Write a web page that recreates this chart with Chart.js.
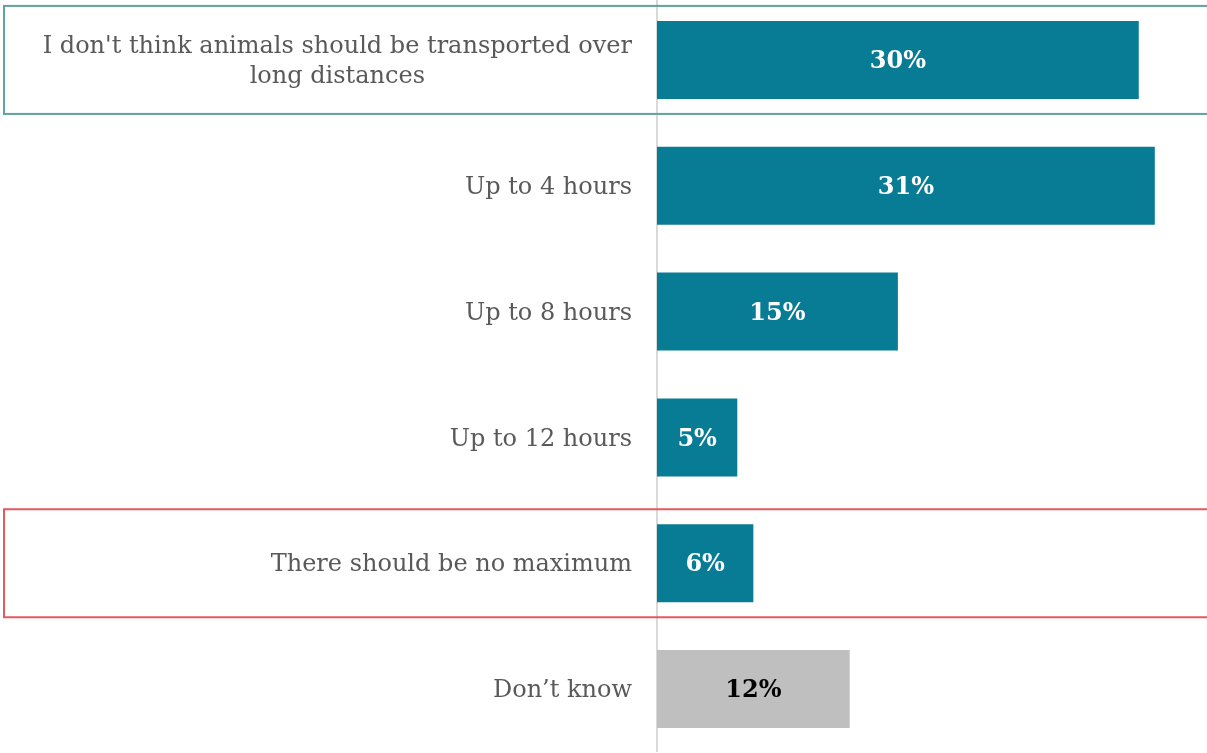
<!DOCTYPE html>
<html><head><meta charset="utf-8">
<style>
html,body{margin:0;padding:0;background:#fff;overflow:hidden;width:1207px;height:753px;}
#wrap{position:absolute;left:0;top:-3px;width:1207px;height:755px;}
</style>
<script src="https://cdn.jsdelivr.net/npm/chart.js@4.4.1/dist/chart.umd.min.js"></script>
</head><body>
<div id="wrap"><canvas id="c"></canvas></div>
<script>
const categories = [
  ["I don't think animals should be transported over", "long distances"],
  ["Up to 4 hours"],
  ["Up to 8 hours"],
  ["Up to 12 hours"],
  ["There should be no maximum"],
  ["Don\u2019t know"]
];
const values = [30, 31, 15, 5, 6, 12];
const barColors = ["#087B95", "#087B95", "#087B95", "#087B95", "#087B95", "#BFBFBF"];
const valueLabelColors = ["#ffffff", "#ffffff", "#ffffff", "#ffffff", "#ffffff", "#000000"];
const highlighted = [{index: 0, color: "#5FA39B"}, {index: 4, color: "#E4585E"}];

const SERIF = "'DejaVu Serif', 'Liberation Serif', serif";

const labelPlugin = {
  id: 'labels',
  afterDraw(chart) {
    const ctx = chart.ctx;
    const y = chart.scales.y;
    highlighted.forEach(h => {
      const cy = y.getPixelForValue(h.index);
      ctx.save();
      ctx.strokeStyle = h.color;
      ctx.lineWidth = 2;
      ctx.strokeRect(4, cy - 54, chart.width + 10, 108);
      ctx.restore();
    });
    ctx.save();
    ctx.font = "24px " + SERIF;
    ctx.fillStyle = "#595959";
    ctx.textBaseline = "middle";
    ctx.textAlign = "center";
    const right = 632;
    categories.forEach((lines, i) => {
      const cy = y.getPixelForValue(i) + 2;
      const w = Math.max(...lines.map(l => ctx.measureText(l).width));
      const cx = right - w / 2;
      const lh = 30;
      lines.forEach((l, k) => {
        ctx.fillText(l, cx, cy + (k - (lines.length - 1) / 2) * lh);
      });
    });
    ctx.restore();
  },
  afterDatasetsDraw(chart) {
    const ctx = chart.ctx;
    const meta = chart.getDatasetMeta(0);
    ctx.save();
    ctx.font = "bold 24px " + SERIF;
    ctx.textAlign = "center";
    ctx.textBaseline = "middle";
    meta.data.forEach((bar, i) => {
      ctx.fillStyle = valueLabelColors[i];
      ctx.fillText(values[i] + "%", (bar.x + bar.base) / 2, bar.y + 2);
    });
    ctx.restore();
  }
};

new Chart(document.getElementById('c'), {
  type: 'bar',
  data: {
    labels: categories,
    datasets: [{
      data: values,
      backgroundColor: barColors,
      borderWidth: 0,
      categoryPercentage: 1,
      barPercentage: 0.62
    }]
  },
  options: {
    indexAxis: 'y',
    responsive: true,
    maintainAspectRatio: false,
    animation: false,
    layout: {padding: {left: 657, right: 0, top: 0, bottom: 0}},
    plugins: {legend: {display: false}, tooltip: {enabled: false}},
    scales: {
      x: {min: 0, max: 34.25, display: false},
      y: {
        ticks: {display: false},
        grid: {display: false, drawTicks: false},
        border: {display: true, color: "#D9D9D9", width: 2}
      }
    }
  },
  plugins: [labelPlugin]
});
</script>
</body></html>
